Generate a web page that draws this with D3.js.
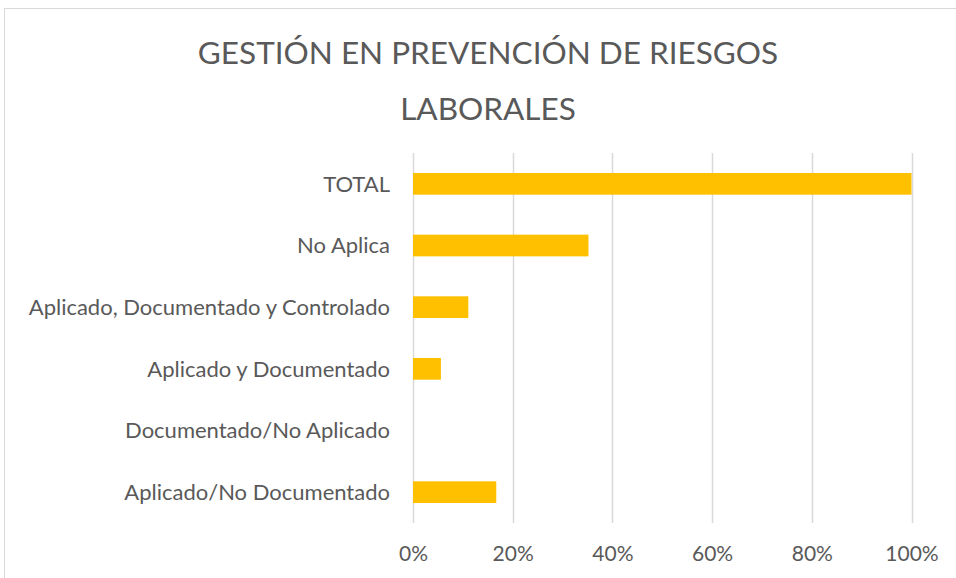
<!DOCTYPE html>
<html>
<head>
<meta charset="utf-8">
<script src="https://cdn.jsdelivr.net/npm/d3@7"></script>
<style>
  body { margin: 0; background: #fff; }
  svg { display: block; font-family: Lato, "Open Sans", sans-serif; }
</style>
</head>
<body>
<div id="chart"></div>
<script>
const width = 956;
const height = 578;

// data, top to bottom as in the chart
const categories = [
    'TOTAL',
    'No Aplica',
    'Aplicado, Documentado y Controlado',
    'Aplicado y Documentado',
    'Documentado/No Aplicado',
    'Aplicado/No Documentado'
];
const values = [1.00, 0.352, 0.111, 0.056, 0, 0.167];
const ticks = [0, 0.2, 0.4, 0.6, 0.8, 1.0];
const titleLines = ['GESTIÓN EN PREVENCIÓN DE RIESGOS', 'LABORALES'];

const textColor = '#595959';
const gridColor = '#d9d9d9';
const barColor = '#ffc000';

const svg = d3.select('#chart')
    .append('svg')
    .attr('width', width)
    .attr('height', height)
    .attr('viewBox', `0,0,${width},${height}`);

// chart area border (runs off the right and bottom edge)
svg.append('rect')
    .attr('x', 4.5)
    .attr('y', 8.5)
    .attr('width', 968)
    .attr('height', 590)
    .style('fill', '#fff')
    .style('stroke', gridColor);

const x = d3.scaleLinear().domain([0, 1]).range([413, 911.5]);
const y = d3.scaleBand()
    .domain(categories)
    .range([153, 523])
    .paddingInner(0.648)
    .paddingOuter(0.324);

// title
svg.append('g')
    .selectAll('text')
    .data(titleLines)
    .join('text')
    .attr('x', 488)
    .attr('y', (d, i) => 63.5 + i * 56)
    .attr('text-anchor', 'middle')
    .style('font-size', '31.5px')
    .style('fill', textColor)
    .text(d => d);

// vertical gridlines
svg.append('g')
    .selectAll('line')
    .data(ticks)
    .join('line')
    .attr('x1', d => Math.round(x(d)) + 0.5)
    .attr('x2', d => Math.round(x(d)) + 0.5)
    .attr('y1', 153)
    .attr('y2', 523)
    .style('stroke', gridColor)
    .style('stroke-width', 1.5);

// bars
svg.append('g')
    .selectAll('rect')
    .data(categories)
    .join('rect')
    .attr('x', x(0))
    .attr('y', d => y(d))
    .attr('width', (d, i) => x(values[i]) - x(0))
    .attr('height', y.bandwidth())
    .style('fill', barColor);

// category labels
svg.append('g')
    .selectAll('text')
    .data(categories)
    .join('text')
    .attr('x', 390)
    .attr('y', d => y(d) + y.bandwidth() / 2)
    .attr('dy', '0.36em')
    .attr('text-anchor', 'end')
    .style('font-size', '22px')
    .style('fill', textColor)
    .text(d => d);

// x axis labels
const xAxis = d3.axisBottom(x)
    .tickValues(ticks)
    .tickFormat(d3.format('.0%'))
    .tickSize(0)
    .tickPadding(0);

const axisG = svg.append('g')
    .attr('transform', `translate(0,${546})`)
    .call(xAxis);
axisG.select('.domain').remove();
axisG.selectAll('text')
    .attr('dy', null)
    .attr('y', 15)
    .style('font-family', 'Lato, "Open Sans", sans-serif')
    .style('font-size', '21px')
    .style('fill', textColor);
</script>
</body>
</html>
